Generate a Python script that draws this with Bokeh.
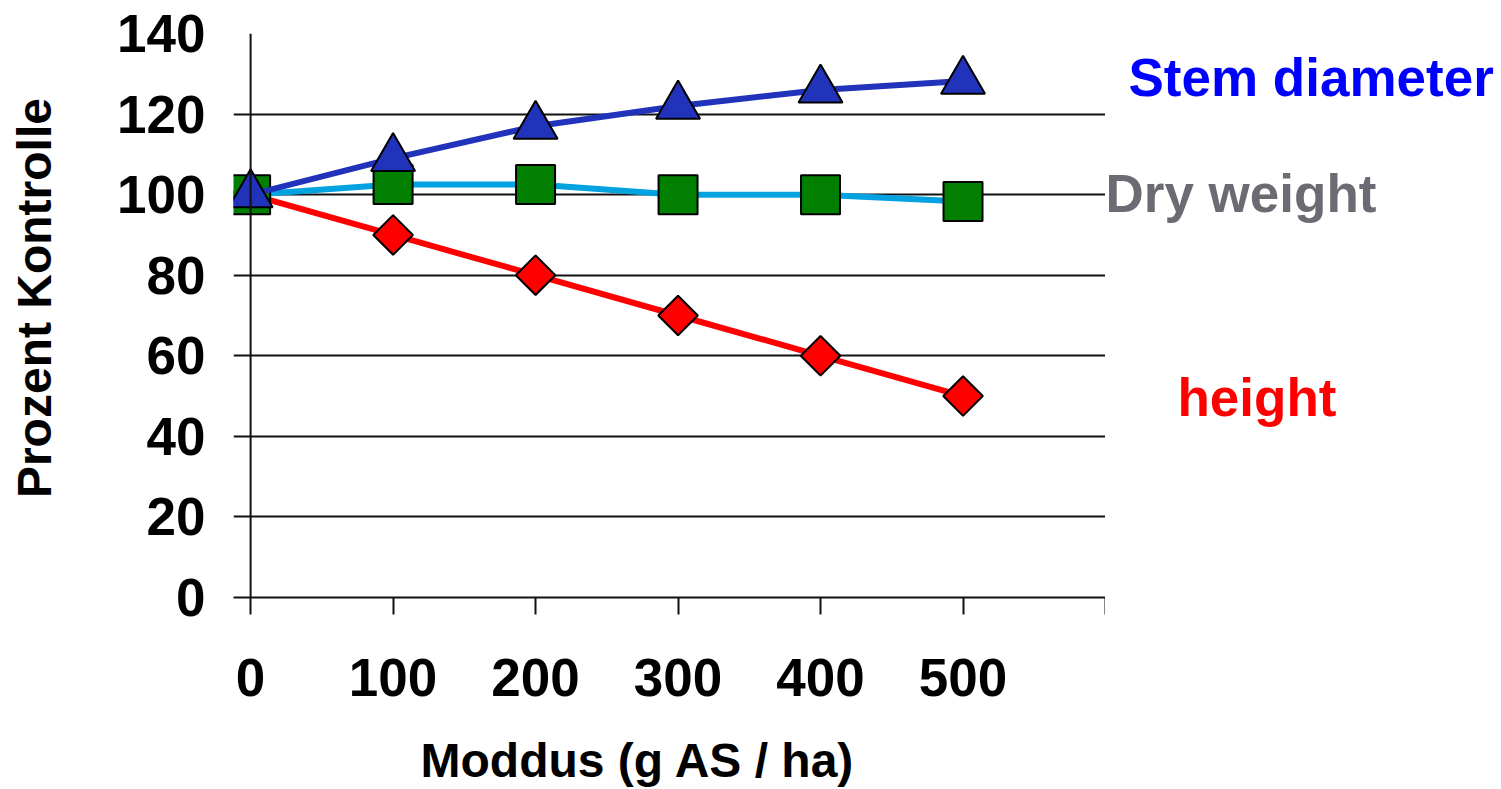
import numpy as np
from bokeh.plotting import figure
from bokeh.layouts import row, column
from bokeh.models import FixedTicker, Span, Label, Range1d
from bokeh.embed import file_html
from bokeh.resources import INLINE

# ---- data ----
dose = [0, 100, 200, 300, 400, 500]
stem_diameter = [100, 109, 117, 122, 126, 128.2]
dry_weight = [100, 102.5, 102.5, 100, 100, 98.3]
height = [100, 90, 80, 70, 60, 50]
x_ticks = [0, 100, 200, 300, 400, 500, 600]
y_ticks = [0, 20, 40, 60, 80, 100, 120, 140]
series_names = ["Stem diameter", "Dry weight", "height"]
x_title = "Moddus (g AS / ha)"
y_title = "Prozent Kontrolle"

FONT = "Liberation Sans"
TOP, BOTTOM = 33, 115          # borders of the main plot panel
PANEL_H = 712                  # height of the upper row
LEFT_W = 70                    # strip that holds the y title
TITLE_H = 789 - PANEL_H        # strip that holds the x title


def blank(fig):
    fig.outline_line_color = None
    fig.grid.visible = False
    fig.background_fill_color = "white"
    fig.border_fill_color = "white"
    return fig


# ---------------- main plot ----------------
y_range = Range1d(0, 140)
p = figure(width=1035, height=PANEL_H, output_backend="svg", toolbar_location=None,
           x_range=Range1d(-12, 600), y_range=y_range,
           min_border_left=233 - LEFT_W, min_border_right=0, min_border_top=TOP,
           min_border_bottom=BOTTOM)
p.outline_line_color = None
p.background_fill_color = "white"
p.border_fill_color = "white"

p.xgrid.visible = False
p.ygrid.ticker = FixedTicker(ticks=y_ticks)
p.ygrid.grid_line_color = "#111111"
p.ygrid.grid_line_width = 2

p.xaxis.ticker = FixedTicker(ticks=x_ticks)
p.xaxis.major_label_overrides = {600: ""}
p.xaxis.axis_line_color = "#111111"
p.xaxis.axis_line_width = 2
p.xaxis.major_tick_line_color = "#111111"
p.xaxis.major_tick_line_width = 2
p.xaxis.major_tick_out = 17
p.xaxis.major_tick_in = 0
p.xaxis.minor_tick_line_color = None
p.xaxis.major_label_text_font = FONT
p.xaxis.major_label_text_font_style = "bold"
p.xaxis.major_label_text_font_size = "53px"
p.xaxis.major_label_text_color = "black"
p.xaxis.major_label_standoff = 44

p.yaxis.ticker = FixedTicker(ticks=y_ticks)
p.yaxis.axis_line_color = None
p.yaxis.major_tick_line_color = None
p.yaxis.major_tick_out = 0
p.yaxis.major_tick_in = 0
p.yaxis.minor_tick_line_color = None
p.yaxis.major_label_text_font = FONT
p.yaxis.major_label_text_font_style = "bold"
p.yaxis.major_label_text_font_size = "53px"
p.yaxis.major_label_text_color = "black"
p.yaxis.major_label_standoff = 28

p.add_layout(Span(location=0, dimension="height", line_color="#111111", line_width=2))

# series: height
p.line(dose, height, line_color="#FF0000", line_width=6)
p.scatter(dose, height, marker="square", angle=np.pi / 4, size=28,
          fill_color="#FF0000", line_color="black", line_width=2)
# series: dry weight
p.line(dose, dry_weight, line_color="#00A2E0", line_width=6)
p.scatter(dose, dry_weight, marker="square", size=39,
          fill_color="#007F00", line_color="black", line_width=2)
# series: stem diameter
p.line(dose, stem_diameter, line_color="#2233BB", line_width=6)
p.scatter(dose, stem_diameter, marker="triangle", size=44,
          fill_color="#2233BB", line_color="black", line_width=2)

# ---------------- right strip: series names (shares y range) ----------------
q = blank(figure(width=396, height=PANEL_H, output_backend="svg", toolbar_location=None,
                 x_range=Range1d(0, 396), y_range=y_range,
                 x_axis_type=None, y_axis_type=None,
                 min_border_left=0, min_border_right=0, min_border_top=TOP,
                 min_border_bottom=BOTTOM))
label_style = dict(text_font=FONT, text_font_style="bold", text_font_size="53px",
                   text_baseline="middle", text_align="left")
q.add_layout(Label(x=23, y=129.0, text=series_names[0], text_color="#0000FF", **label_style))
q.add_layout(Label(x=0, y=100.2, text=series_names[1], text_color="#6B6B73", **label_style))
q.add_layout(Label(x=72, y=49.6, text=series_names[2], text_color="#FF0000", **label_style))

# ---------------- left strip: y title (pixel coordinates, origin top-left) ----------------
s = blank(figure(width=LEFT_W, height=PANEL_H, output_backend="svg", toolbar_location=None,
                 x_range=Range1d(0, LEFT_W), y_range=Range1d(PANEL_H, 0),
                 x_axis_type=None, y_axis_type=None,
                 min_border_left=0, min_border_right=0, min_border_top=0, min_border_bottom=0))
s.add_layout(Label(x=33.5, y=334, text=y_title, angle=np.pi / 2, text_font=FONT,
                   text_font_style="bold", text_font_size="48px", text_color="black",
                   text_align="center", text_baseline="middle"))

# ---------------- bottom strip: x title (pixel coordinates, origin top-left) ----------------
r = blank(figure(width=1501, height=TITLE_H, output_backend="svg", toolbar_location=None,
                 x_range=Range1d(0, 1501), y_range=Range1d(TITLE_H, 0),
                 x_axis_type=None, y_axis_type=None,
                 min_border_left=0, min_border_right=0, min_border_top=0, min_border_bottom=0))
r.add_layout(Label(x=420, y=760 - PANEL_H, text=x_title, text_font=FONT,
                   text_font_style="bold", text_font_size="48px", text_color="black",
                   text_align="left", text_baseline="middle"))

layout = column(row(s, p, q, spacing=0), r, spacing=0)
open("out.html", "w").write(file_html(layout, INLINE))
